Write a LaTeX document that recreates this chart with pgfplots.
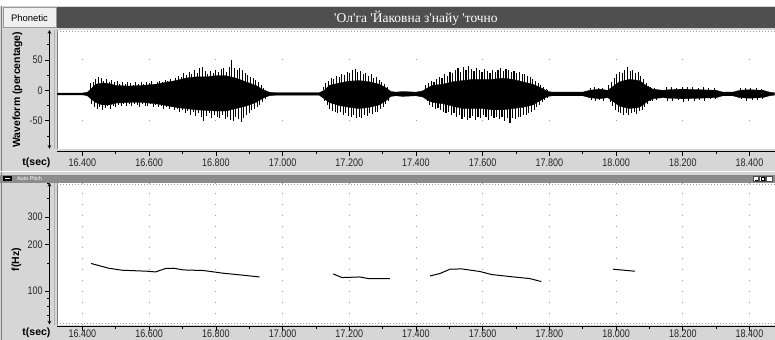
\documentclass[border=0pt]{standalone}
\usepackage{fontspec}
\setmainfont{Liberation Sans}
\newfontfamily\serifcyr{Liberation Serif}
\usepackage{pgfplots}
\usepackage{pgfplotstable}
\pgfplotsset{compat=1.18}
\definecolor{panel}{HTML}{D6D6D6}
\definecolor{darkbar}{HTML}{4F4F4F}
\definecolor{midbar}{HTML}{8C8C8C}
\definecolor{griddot}{HTML}{9A9A9A}

% waveform core envelope (percentage): upper edge left to right, then lower edge right to left
\pgfplotstableread{
t v
16.325 -4.5
16.400 -4.5
16.415 -3
16.425 2
16.440 10
16.460 12
16.480 11
16.500 8
16.540 7
16.580 8
16.620 10
16.650 13
16.680 16
16.710 20
16.740 22
16.770 22
16.800 24
16.830 24
16.860 20
16.890 14
16.920 8
16.945 0
16.960 -3
16.980 -4
17.110 -4
17.125 0
17.140 8
17.170 12
17.200 15
17.230 16
17.260 14
17.290 10
17.310 4
17.325 -2
17.340 -3
17.360 -2
17.400 -3
17.420 -1
17.435 4
17.450 8
17.480 10
17.510 14
17.540 16
17.570 18
17.600 18
17.630 18
17.660 20
17.690 18
17.720 14
17.750 10
17.775 4
17.795 -2
17.810 -3
17.900 -3
17.920 0
17.950 2
17.975 0
17.990 6
18.010 14
18.040 18
18.070 16
18.095 6
18.110 2
18.140 0
18.160 1
18.200 2
18.250 1
18.300 0
18.320 -3
18.350 -3
18.370 0
18.400 1
18.440 0
18.460 -3
18.475 -4
18.475 -8
18.460 -9
18.440 -12
18.400 -13
18.370 -12
18.350 -9
18.320 -9
18.300 -12
18.250 -13
18.200 -14
18.160 -13
18.140 -12
18.110 -14
18.095 -18
18.070 -28
18.040 -30
18.010 -26
17.990 -18
17.975 -12
17.950 -14
17.920 -12
17.900 -9
17.810 -9
17.795 -10
17.775 -16
17.750 -24
17.720 -28
17.690 -30
17.660 -32
17.630 -32
17.600 -30
17.570 -30
17.540 -30
17.510 -26
17.480 -22
17.450 -20
17.435 -16
17.420 -11
17.400 -9
17.360 -10
17.340 -9
17.325 -10
17.310 -17
17.290 -24
17.260 -28
17.230 -30
17.200 -28
17.170 -25
17.140 -20
17.125 -14
17.110 -8
16.980 -8
16.960 -9
16.945 -12
16.920 -20
16.890 -26
16.860 -30
16.830 -34
16.800 -34
16.770 -33
16.740 -32
16.710 -30
16.680 -28
16.650 -25
16.620 -22
16.580 -20
16.540 -20
16.500 -21
16.480 -24
16.460 -24
16.440 -20
16.425 -14
16.415 -9
16.400 -7.5
16.325 -7.5
}\core

% waveform peaks (upper at t, lower at t+0.004)
\pgfplotstableread{
t U L
16.424 12 -22
16.432 14 -28
16.440 18 -30
16.448 22 -27
16.456 21 -32
16.464 16 -29
16.472 19 -26
16.480 14 -30
16.488 17 -25
16.496 13 -27
16.504 15 -24
16.512 11 -26
16.520 13 -22
16.528 10 -25
16.536 14 -23
16.544 12 -26
16.552 9 -22
16.560 13 -24
16.568 11 -27
16.576 14 -23
16.584 10 -25
16.592 13 -26
16.600 12 -23
16.608 15 -27
16.616 11 -24
16.624 14 -28
16.632 16 -26
16.640 13 -30
16.648 17 -27
16.656 15 -31
16.664 18 -28
16.672 16 -33
16.680 20 -30
16.688 24 -35
16.696 22 -32
16.704 28 -38
16.712 25 -34
16.720 30 -40
16.728 26 -36
16.736 33 -42
16.744 29 -38
16.752 36 -44
16.760 38 -50
16.768 31 -42
16.776 27 -38
16.784 32 -45
16.792 29 -40
16.800 34 -43
16.808 30 -46
16.816 35 -41
16.824 36 -47
16.832 30 -44
16.840 38 -48
16.848 50 -51
16.856 36 -43
16.864 34 -47
16.872 37 -52
16.880 33 -45
16.888 28 -40
16.896 25 -37
16.904 22 -33
16.912 20 -30
16.920 17 -27
16.928 13 -24
16.936 9 -20
16.944 4 -15
17.122 6 -18
17.130 12 -24
17.138 16 -30
17.146 20 -34
17.154 18 -36
17.162 24 -38
17.170 22 -35
17.178 27 -40
17.186 25 -37
17.194 30 -42
17.202 28 -44
17.210 33 -41
17.218 35 -46
17.226 30 -43
17.234 32 -45
17.242 27 -40
17.250 29 -42
17.258 24 -38
17.266 26 -39
17.274 21 -35
17.282 22 -36
17.290 17 -30
17.298 14 -27
17.306 10 -22
17.314 5 -17
17.430 8 -18
17.438 12 -24
17.446 15 -28
17.454 14 -31
17.462 18 -29
17.470 22 -33
17.478 20 -35
17.486 26 -38
17.494 24 -36
17.502 30 -40
17.510 28 -38
17.518 33 -43
17.526 36 -41
17.534 30 -47
17.542 38 -44
17.550 34 -48
17.558 40 -45
17.566 35 -42
17.574 32 -48
17.582 37 -44
17.590 33 -46
17.598 30 -41
17.606 35 -44
17.614 31 -48
17.622 28 -42
17.630 33 -45
17.638 30 -43
17.646 34 -47
17.654 36 -44
17.662 32 -50
17.670 35 -46
17.678 33 -53
17.686 30 -45
17.694 32 -47
17.702 28 -43
17.710 30 -44
17.718 26 -40
17.726 27 -41
17.734 23 -37
17.742 22 -35
17.750 18 -32
17.758 15 -28
17.766 12 -24
17.774 9 -20
17.782 5 -16
17.790 2 -13
17.922 4 -16
17.934 5 -18
17.946 3 -16
17.958 4 -17
17.978 8 -20
17.986 14 -26
17.994 20 -32
18.002 26 -36
18.010 30 -38
18.018 28 -40
18.026 33 -37
18.034 39 -40
18.042 31 -38
18.050 34 -36
18.058 29 -39
18.066 30 -34
18.074 24 -32
18.082 19 -28
18.090 12 -22
18.098 7 -18
18.104 5 -18
18.116 4 -16
18.150 5 -17
18.166 6 -18
18.182 4 -16
18.198 6 -19
18.214 5 -17
18.230 6 -18
18.246 4 -16
18.262 5 -17
18.278 3 -15
18.294 4 -15
18.372 3 -15
18.388 4 -17
18.404 3 -16
18.420 4 -16
18.436 2 -14
}\spikes

\pgfplotsset{
  sa/.style={
    scale only axis,
    xmin=16.325, xmax=18.475,
    axis x line*=bottom, axis y line*=left,
    xtick={16.4,16.6,16.8,17.0,17.2,17.4,17.6,17.8,18.0,18.2,18.4},
    xticklabels={16.400,16.600,16.800,17.000,17.200,17.400,17.600,17.800,18.000,18.200,18.400},
    minor xtick={16.5,16.7,16.9,17.1,17.3,17.5,17.7,17.9,18.1,18.3},
    tick align=outside,
    major tick length=4pt, minor tick length=2.5pt,
    tick style={black, line width=0.6pt},
    every tick label/.append style={font=\fontsize{11}{12}\selectfont, xscale=0.82, text=black!85, overlay},
    axis line style={black, line width=0.7pt},
    y axis line style={stealth-stealth},
    xmajorgrids=true,
  }
}

\begin{document}
\begin{tikzpicture}[x=1pt,y=1pt]
% backgrounds
\fill[white] (0,0) rectangle (775,340);
\fill[panel] (0,0) rectangle (775,334);
\draw[gray] (0.5,0) -- (0.5,334);
% Phonetic box
\draw[gray!80, fill=black!6] (2.5,312.5) rectangle (55.5,332.5);
\node[font=\fontsize{9.5}{10}\selectfont] at (29,322) {Phonetic};
% dark title bar
\fill[darkbar] (57,312) rectangle (775,333);
\node[white, font=\serifcyr\fontsize{13.5}{14}\selectfont] at (416,322)
  {\textquotesingle Ол\textquotesingle га \textquotesingle Йаковна з\textquotesingle найу \textquotesingle точно};
% waveform plot area
\fill[white] (57,191) rectangle (775,310);
\draw[gray!60] (54,191) -- (54,310);
\draw[gray] (56.5,191) -- (56.5,310);
\draw[griddot, dash pattern=on 1pt off 2pt] (57,309) -- (775,309);
% separator and pitch header
\draw[white, line width=1pt] (0,168) -- (775,168);
\fill[midbar] (0,157) rectangle (775,165);
\fill[black] (3,158.5) rectangle (12,163.5);
\draw[white, line width=0.6pt] (5,161) -- (10,161);
\node[anchor=west, white, font=\fontsize{5.5}{6}\selectfont] at (13,161) {Auto Pitch};
\draw[black!70, fill=white] (754,158.5) rectangle (759,163.5);
\draw[black] (755,159.5) -- (758,159.5);
\draw[black!70, fill=white] (760,158.5) rectangle (766,163.5);
\draw[black] (761.5,159.5) rectangle (764.5,162.5);
\draw[black!70, fill=white] (767,158.5) rectangle (773,163.5);
% pitch plot area
\fill[white] (57,15) rectangle (775,157);
\draw[gray!60] (54,15) -- (54,157);
\draw[gray] (56.5,15) -- (56.5,157);
\draw[griddot, dash pattern=on 1pt off 2pt] (57,156) -- (775,156);
\draw[griddot, dash pattern=on 1pt off 2pt] (57,16) -- (775,16);

% waveform axis
\begin{axis}[sa,
  at={(57pt,191pt)}, anchor=south west,
  width=718pt, height=119pt,
  ymin=-96, ymax=99,
  axis x line shift=3pt, axis y line shift=8pt,
  ytick={-50,0,50}, yticklabels={-50,0,50},
  minor ytick={-75,-25,25,75},
  major grid style={griddot, line width=0.9pt, dash pattern=on 0.9pt off 60.1pt, dash phase=33pt},
]
\addplot[fill=black, draw=black, line width=0.3pt] table[x=t, y=v]{\core} -- cycle;
\addplot[ycomb, black, line width=1.05pt] table[x=t, y=U]{\spikes};
\addplot[ycomb, black, line width=1.05pt] table[x expr=\thisrow{t}+0.004, y=L]{\spikes};
\end{axis}

% pitch axis
\begin{axis}[sa,
  at={(57pt,15pt)}, anchor=south west,
  width=718pt, height=142pt,
  ymode=log, ymin=60.7, ymax=501,
  axis x line shift=2pt, axis y line shift=8pt,
  xticklabel style={yshift=4.5pt},
  ytick={100,200,300}, yticklabels={100,200,300},
  minor ytick={60,70,80,90,150,250,400,500},
  major grid style={griddot, line width=0.9pt, dash pattern=on 0.9pt off 10pt},
]
\addplot[black, line width=1pt] coordinates {(16.426,150.7) (16.479,140.4) (16.519,136.3) (16.594,134.3) (16.619,132.9) (16.649,139.8) (16.673,140.4) (16.703,136.9) (16.763,135.7) (16.823,130.3) (16.883,126.5) (16.931,123.3)};
\addplot[black, line width=1pt] coordinates {(17.152,129) (17.178,122.2) (17.232,123.3) (17.257,120.4) (17.322,120.4)};
\addplot[black, line width=1pt] coordinates {(17.442,125.2) (17.472,129.8) (17.502,138.4) (17.537,139) (17.592,133.7) (17.627,127.8) (17.681,124.1) (17.741,120.4) (17.776,115.1)};
\addplot[black, line width=1pt] coordinates {(17.991,138.4) (18.056,134.3)};
\end{axis}

% axis labels
\node[rotate=90, font=\bfseries\fontsize{10.5}{12}\selectfont] at (17,250) {Waveform (percentage)};
\node[font=\bfseries\fontsize{10.5}{12}\selectfont] at (36,177) {t(sec)};
\node[rotate=90, font=\bfseries\fontsize{10.5}{12}\selectfont] at (16,80) {f(Hz)};
\node[overlay, font=\bfseries\fontsize{10.5}{12}\selectfont] at (36,7) {t(sec)};
\end{tikzpicture}
\end{document}
